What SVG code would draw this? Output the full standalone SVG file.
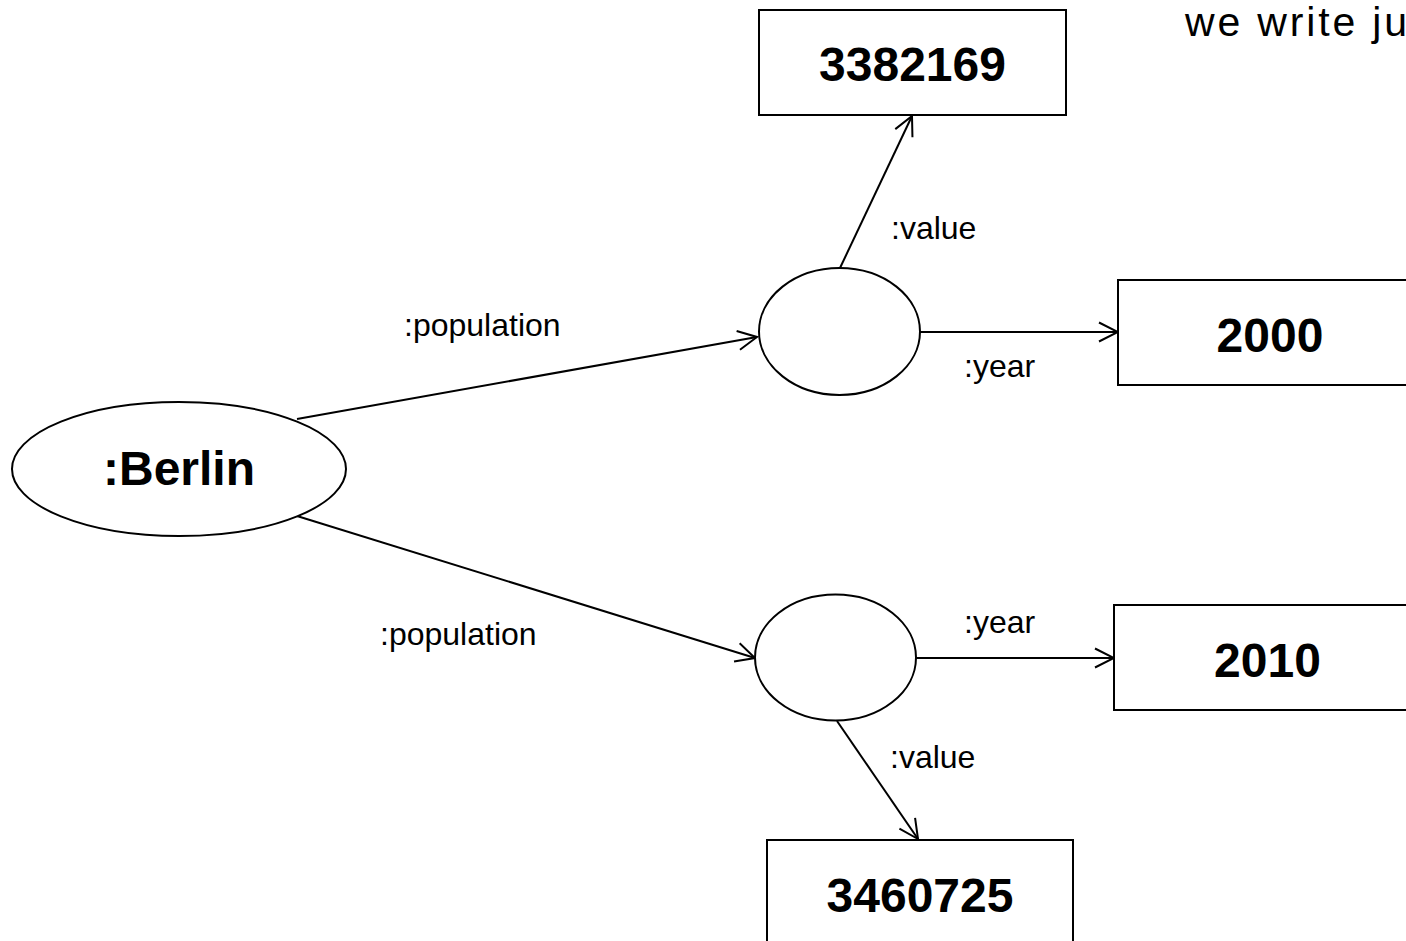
<svg xmlns="http://www.w3.org/2000/svg" width="1406" height="941" viewBox="0 0 1406 941">
  <style>
    .shape { fill: #ffffff; stroke: #000000; stroke-width: 2; }
    .edge { fill: none; stroke: #000000; stroke-width: 2; marker-end: url(#open-arrow); }
    .lit { font-family: "Liberation Sans", Arial, sans-serif; font-weight: bold; font-size: 48px; fill: #000000; text-anchor: middle; }
    .lbl { font-family: "Liberation Sans", Arial, sans-serif; font-size: 32px; fill: #000000; }
    .note { font-family: "Liberation Sans", Arial, sans-serif; font-size: 41px; fill: #000000; }
  </style>
  <defs>
    <marker id="open-arrow" markerUnits="userSpaceOnUse" viewBox="-21 -11 23 22" refX="0" refY="0" markerWidth="23" markerHeight="22" orient="auto">
      <path d="M-19,-9.5 L0,0 L-19,9.5" fill="none" stroke="#000000" stroke-width="2"/>
    </marker>
  </defs>

  <rect width="1406" height="941" fill="#ffffff"/>

  <!-- connectors -->
  <g id="edges">
    <line class="edge" x1="297" y1="419" x2="757" y2="337"/>
    <line class="edge" x1="297" y1="516" x2="755" y2="658"/>
    <line class="edge" x1="840" y1="268" x2="912" y2="116"/>
    <line class="edge" x1="920" y1="332" x2="1118" y2="332"/>
    <line class="edge" x1="916" y1="658" x2="1114" y2="658"/>
    <line class="edge" x1="837" y1="721" x2="918" y2="839"/>
  </g>

  <!-- edge labels -->
  <g id="edge-labels">
    <text class="lbl" x="404" y="336">:population</text>
    <text class="lbl" x="380" y="645">:population</text>
    <text class="lbl" x="891" y="239">:value</text>
    <text class="lbl" x="964" y="377">:year</text>
    <text class="lbl" x="964" y="633">:year</text>
    <text class="lbl" x="890" y="768">:value</text>
  </g>

  <g id="node-berlin">
    <ellipse class="shape" cx="179" cy="469" rx="167" ry="67"/>
    <text class="lit" x="179" y="485">:Berlin</text>
  </g>

  <g id="node-blank-2000">
    <ellipse class="shape" cx="839.5" cy="331.5" rx="80.5" ry="63.5"/>
  </g>

  <g id="node-blank-2010">
    <ellipse class="shape" cx="835.5" cy="657.5" rx="80.5" ry="63"/>
  </g>

  <g id="node-3382169">
    <rect class="shape" x="759" y="10" width="307" height="105"/>
    <text class="lit" x="912.5" y="81">3382169</text>
  </g>

  <g id="node-2000">
    <rect class="shape" x="1118" y="280" width="306" height="105"/>
    <text class="lit" x="1270" y="351.5">2000</text>
  </g>

  <g id="node-2010">
    <rect class="shape" x="1114" y="605" width="306" height="105"/>
    <text class="lit" x="1267.5" y="677">2010</text>
  </g>

  <g id="node-3460725">
    <rect class="shape" x="767" y="840" width="306" height="105"/>
    <text class="lit" x="920" y="912">3460725</text>
  </g>

  <g id="note">
    <text class="note" x="1185" y="36" textLength="222" lengthAdjust="spacing">we write ju</text>
  </g>
</svg>
